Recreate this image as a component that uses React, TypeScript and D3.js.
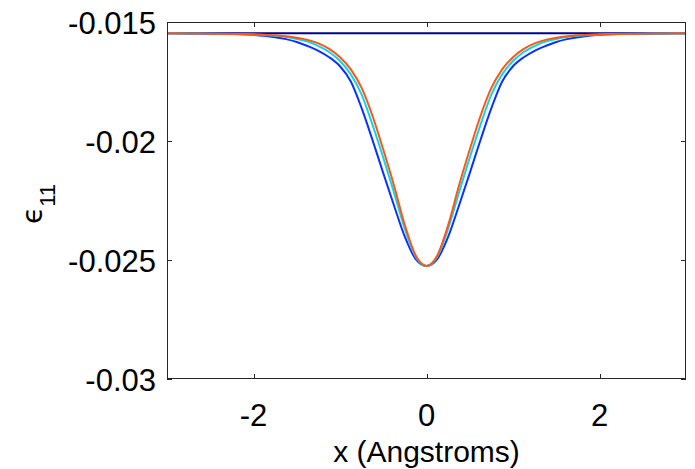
import React from "react";
import * as d3 from "d3";

// Strain component epsilon_11 along x for four cases
const xs = [
  -3, -2.75, -2.5, -2.25, -2, -1.875, -1.75, -1.625, -1.5, -1.375, -1.25, -1.125, -1, -0.875, -0.75, -0.625, -0.5, -0.375, -0.25, -0.125,
  0,
  0.125, 0.25, 0.375, 0.5, 0.625, 0.75, 0.875, 1, 1.125, 1.25, 1.375, 1.5, 1.625, 1.75, 1.875, 2, 2.25, 2.5, 2.75, 3,
];

const flatSeries = xs.map(() => -0.01547);

const blueSeries = [
  -0.01547, -0.01548, -0.01549, -0.0155, -0.01554, -0.01558, -0.01564, -0.01572, -0.01584, -0.01601, -0.01621, -0.01648, -0.01686, -0.0175, -0.01862, -0.01995, -0.02135, -0.02272, -0.02403, -0.02496,
  -0.02525,
  -0.02496, -0.02403, -0.02272, -0.02135, -0.01995, -0.01862, -0.0175, -0.01686, -0.01648, -0.01621, -0.01601, -0.01584, -0.01572, -0.01564, -0.01558, -0.01554, -0.0155, -0.01549, -0.01548, -0.01547,
];

const cyanSeries = [
  -0.01547, -0.01548, -0.01549, -0.0155, -0.01552, -0.01555, -0.01558, -0.01563, -0.01571, -0.01582, -0.01601, -0.01626, -0.01664, -0.0172, -0.01805, -0.01931, -0.0207, -0.02217, -0.02369, -0.02486,
  -0.02525,
  -0.02486, -0.02369, -0.02217, -0.0207, -0.01931, -0.01805, -0.0172, -0.01664, -0.01626, -0.01601, -0.01582, -0.01571, -0.01563, -0.01558, -0.01555, -0.01552, -0.0155, -0.01549, -0.01548, -0.01547,
];

const orangeSeries = [
  -0.01547, -0.01548, -0.01549, -0.0155, -0.01552, -0.01554, -0.01556, -0.0156, -0.01566, -0.01575, -0.0159, -0.01613, -0.01648, -0.01699, -0.01777, -0.01894, -0.02036, -0.02188, -0.02354, -0.02481,
  -0.02525,
  -0.02481, -0.02354, -0.02188, -0.02036, -0.01894, -0.01777, -0.01699, -0.01648, -0.01613, -0.0159, -0.01575, -0.01566, -0.0156, -0.01556, -0.01554, -0.01552, -0.0155, -0.01549, -0.01548, -0.01547,
];

const seriesList = [
  { name: "flat", values: flatSeries, color: "#00008f" },
  { name: "blue", values: blueSeries, color: "#0a32ff" },
  { name: "cyan", values: cyanSeries, color: "#12d4e6" },
  { name: "orange", values: orangeSeries, color: "#ff5614" },
];

const xTicks = [-2, 0, 2];
const yTicks = [-0.03, -0.025, -0.02, -0.015];
const yTickLabels = ["-0.03", "-0.025", "-0.02", "-0.015"];

const W = 695;
const H = 469;
const plot = { left: 167, right: 686, top: 22, bottom: 379 };

export default function App() {
  const x = d3.scaleLinear().domain([-3, 3]).range([plot.left, plot.right]);
  const y = d3.scaleLinear().domain([-0.03, -0.015]).range([plot.bottom, plot.top]);

  const line = d3
    .line<[number, number]>()
    .x((d) => x(d[0]))
    .y((d) => y(d[1]))
    .curve(d3.curveMonotoneX);

  const font = "'Liberation Sans', Arial, Helvetica, sans-serif";
  const axisColor = "#262626";
  const tickLen = 5;

  return (
    <svg
      width={W}
      height={H}
      viewBox={`0 0 ${W} ${H}`}
      style={{ position: "absolute", left: 0, top: 0, background: "#fff" }}
    >
      <rect x={0} y={0} width={W} height={H} fill="#fff" />
      <defs>
        <clipPath id="plot-clip">
          <rect x={plot.left} y={plot.top} width={plot.right - plot.left} height={plot.bottom - plot.top} />
        </clipPath>
      </defs>

      <g clipPath="url(#plot-clip)">
        {seriesList.map((s) => (
          <path
            key={s.name}
            d={line(xs.map((xv, i) => [xv, s.values[i]]) as [number, number][]) || ""}
            fill="none"
            stroke={s.color}
            strokeWidth={2}
            strokeLinejoin="round"
          />
        ))}
      </g>

      {/* axes box */}
      <rect
        x={plot.left + 0.5}
        y={plot.top + 0.5}
        width={plot.right - plot.left - 1}
        height={plot.bottom - plot.top - 1}
        fill="none"
        stroke={axisColor}
        strokeWidth={1}
      />

      {/* x ticks */}
      {xTicks.map((t) => (
        <g key={`xt${t}`}>
          <line x1={Math.round(x(t)) + 0.5} x2={Math.round(x(t)) + 0.5} y1={plot.bottom} y2={plot.bottom - tickLen} stroke={axisColor} />
          <line x1={Math.round(x(t)) + 0.5} x2={Math.round(x(t)) + 0.5} y1={plot.top} y2={plot.top + tickLen} stroke={axisColor} />
          <text x={x(t)} y={425.5} textAnchor="middle" fontFamily={font} fontSize={31} fill="#000">
            {t}
          </text>
        </g>
      ))}

      {/* y ticks */}
      {yTicks.map((t, i) => (
        <g key={`yt${t}`}>
          <line x1={plot.left} x2={plot.left + tickLen} y1={Math.round(y(t)) + 0.5} y2={Math.round(y(t)) + 0.5} stroke={axisColor} />
          <line x1={plot.right} x2={plot.right - tickLen} y1={Math.round(y(t)) + 0.5} y2={Math.round(y(t)) + 0.5} stroke={axisColor} />
          <text x={156} y={y(t) + 12} textAnchor="end" fontFamily={font} fontSize={31} fill="#000">
            {yTickLabels[i]}
          </text>
        </g>
      ))}

      {/* axis titles */}
      <text x={(plot.left + plot.right) / 2} y={462} textAnchor="middle" fontFamily={font} fontSize={30} fill="#000">
        x (Angstroms)
      </text>
      <text transform="translate(42,224) rotate(-90)" fontFamily="'DejaVu Sans', 'Liberation Sans', sans-serif" fontSize={28} fill="#000">
        ϵ
        <tspan dy={13} fontSize={22} fontFamily={font}>
          11
        </tspan>
      </text>
    </svg>
  );
}
